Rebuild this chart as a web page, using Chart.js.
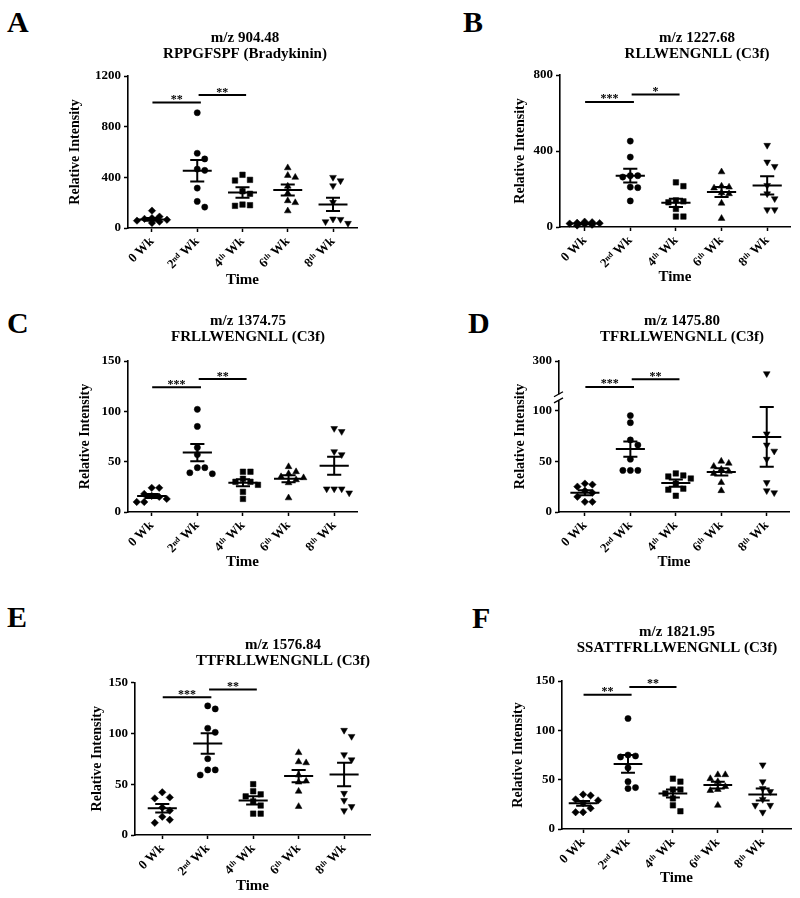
<!DOCTYPE html>
<html><head><meta charset="utf-8">
<script src="https://cdn.jsdelivr.net/npm/chart.js@4.4.1/dist/chart.umd.min.js"></script>
<style>
html,body{margin:0;padding:0;background:#fff;overflow:hidden;}
#wrap{position:relative;width:800px;height:898px;overflow:hidden;background:#fff;}
#wrap canvas{position:absolute;}
.lab{position:absolute;font:bold 30px 'Liberation Serif',serif;color:#000;line-height:1;}
</style></head><body><div id="wrap"></div>
<script>
// ---------- data ----------
const categories = ['0 Wk', '2ⁿᵈ Wk', '4ᵗʰ Wk', '6ᵗʰ Wk', '8ᵗʰ Wk'];

const A_title = ['m/z 904.48', 'RPPGFSPF (Bradykinin)'];
const A_yTicks = [0, 400, 800, 1200];
const A_w0 = [137, 90, 78, 72, 65, 58, 50, 40];
const A_w2 = [910, 590, 545, 465, 455, 315, 210, 165];
const A_w4 = [420, 380, 375, 290, 270, 185, 180, 175];
const A_w6 = [475, 415, 400, 330, 275, 215, 200, 135];
const A_w8 = [400, 373, 334, 203, 71, 68, 50, 37];
const A_mean = [68, 452, 280, 300, 186];
const A_sem = [10, 85, 41, 43, 52];
const A_sig = [990, 1050];
const A_sigLabels = ['**', '**'];

const B_title = ['m/z 1227.68', 'RLLWENGNLL (C3f)'];
const B_yTicks = [0, 400, 800];
const B_w0 = [28, 25, 22, 20, 18, 15, 12, 8];
const B_w2 = [452, 368, 270, 270, 263, 210, 207, 137];
const B_w4 = [235, 215, 140, 135, 130, 95, 55, 55];
const B_w6 = [290, 215, 210, 205, 180, 175, 125, 45];
const B_w8 = [430, 342, 319, 219, 175, 149, 91, 91];
const B_mean = [18, 270, 127, 184, 219];
const B_sem = [3, 36, 22, 26, 48];
const B_sig = [658, 698];
const B_sigLabels = ['***', '*'];

const C_title = ['m/z 1374.75', 'FRLLWENGNLL (C3f)'];
const C_yTicks = [0, 50, 100, 150];
const C_w0 = [24, 24, 18, 16, 15, 13, 10, 10];
const C_w2 = [102, 85, 64, 57, 44, 44, 39, 38];
const C_w4 = [40, 40, 33, 30, 30, 27, 20, 13];
const C_w6 = [45, 40, 38, 35, 34, 32, 29, 14];
const C_w8 = [83, 80, 60, 57, 23, 23, 23, 19];
const C_mean = [16, 59, 29, 33, 46];
const C_sem = [2, 8.5, 3.5, 3.5, 9];
const C_sig = [124, 132];
const C_sigLabels = ['***', '**'];

const D_title = ['m/z 1475.80', 'TFRLLWENGNLL (C3f)'];
const D_yTicks = [0, 50, 100, 300];
const D_w0 = [28, 27, 25, 21, 19, 15, 10, 10];
const D_w2 = [95, 88, 71, 66, 52, 41, 41, 41];
const D_w4 = [38, 36, 35, 33, 28, 23, 22, 16];
const D_w6 = [50, 48, 45, 42, 40, 38, 29, 21];
const D_w8 = [262, 77, 66, 60, 52, 29, 21, 19];
const D_mean = [19, 62, 28.5, 39.5, 74];
const D_sem = [2.5, 7.5, 3.5, 3.5, 29.5];
const D_sig = [222, 245];
const D_sigLabels = ['***', '**'];

const E_title = ['m/z 1576.84', 'TTFRLLWENGNLL (C3f)'];
const E_yTicks = [0, 50, 100, 150];
const E_w0 = [42, 37, 36, 27, 24, 18, 15, 12];
const E_w2 = [127, 124, 105, 101, 75, 64, 64, 59];
const E_w4 = [50, 43, 40, 38, 33, 29, 21, 21];
const E_w6 = [81, 72, 71, 59, 53, 52, 43, 28];
const E_w8 = [103, 97, 79, 74, 41, 34, 28, 24];
const E_mean = [26.4, 90, 34, 58, 59.5];
const E_sem = [4.2, 10, 4, 6, 11.5];
const E_sig = [135.5, 143];
const E_sigLabels = ['***', '**'];

const F_title = ['m/z 1821.95', 'SSATTFRLLWENGNLL (C3f)'];
const F_yTicks = [0, 50, 100, 150];
const F_w0 = [35, 34, 30, 29, 26, 21, 17, 17];
const F_w2 = [112, 75, 74, 73, 62, 48, 42, 41];
const F_w4 = [51, 48, 40, 40, 36, 31, 24, 18];
const F_w6 = [55, 55, 51, 48, 43, 40, 39, 24];
const F_w8 = [65, 48, 41, 38, 30, 24, 24, 17];
const F_mean = [26, 66, 36, 44.5, 35];
const F_sem = [2.5, 9, 4, 3.5, 6];
const F_sig = [136, 144];
const F_sigLabels = ['**', '**'];

// ---------- styling / layout ----------
const FONT = "'Liberation Serif', 'DejaVu Serif', serif";
Chart.defaults.font.family = FONT;
Chart.defaults.color = '#000';
Chart.defaults.animation = false;

const ident = v => v;
// broken axis for panel D: 0..110 linear, 200..300 compressed above the break
const brokenD = v => (v == null ? null : (v <= 110 ? v : 116 + (v - 200) * 0.328));

const groupStyles = [
  { pointStyle: 'rectRot', pointRadius: 3.7, pointRotation: 0 },
  { pointStyle: 'circle', pointRadius: 3.1, pointRotation: 0 },
  { pointStyle: 'rect', pointRadius: 3.9, pointRotation: 0 },
  { pointStyle: 'triangle', pointRadius: 3.9, pointRotation: 0 },
  { pointStyle: 'triangle', pointRadius: 3.9, pointRotation: 180 }
];

const panels = [
  { letter: 'A', lpos: [7, 7], title: A_title, yTicks: A_yTicks, groups: [A_w0, A_w2, A_w4, A_w6, A_w8], mean: A_mean, sem: A_sem, sig: A_sig, sigLabels: A_sigLabels, T: ident,
    box: { L: 128, R: 357, T: 76, B: 228, xMin: -0.53, xMax: 4.53, titleX: 245, titleY: 38, yTitleX: 75, timeY: 280 } },
  { letter: 'B', lpos: [463, 7], title: B_title, yTicks: B_yTicks, groups: [B_w0, B_w2, B_w4, B_w6, B_w8], mean: B_mean, sem: B_sem, sig: B_sig, sigLabels: B_sigLabels, T: ident,
    box: { L: 560, R: 790, T: 75, B: 227, xMin: -0.54, xMax: 4.5, titleX: 697, titleY: 38, yTitleX: 520, timeY: 277 } },
  { letter: 'C', lpos: [7, 308], title: C_title, yTicks: C_yTicks, groups: [C_w0, C_w2, C_w4, C_w6, C_w8], mean: C_mean, sem: C_sem, sig: C_sig, sigLabels: C_sigLabels, T: ident,
    box: { L: 128, R: 357, T: 361, B: 512, xMin: -0.52, xMax: 4.5, titleX: 248, titleY: 321, yTitleX: 85, timeY: 562 } },
  { letter: 'D', lpos: [468, 308], title: D_title, yTicks: D_yTicks, groups: [D_w0, D_w2, D_w4, D_w6, D_w8], mean: D_mean, sem: D_sem, sig: D_sig, sigLabels: D_sigLabels, T: brokenD, brk: [110, 116],
    box: { L: 559, R: 789, T: 361, B: 512, xMin: -0.57, xMax: 4.49, titleX: 682, titleY: 321, yTitleX: 520, timeY: 562 } },
  { letter: 'E', lpos: [7, 602], title: E_title, yTicks: E_yTicks, groups: [E_w0, E_w2, E_w4, E_w6, E_w8], mean: E_mean, sem: E_sem, sig: E_sig, sigLabels: E_sigLabels, T: ident,
    box: { L: 135, R: 370, T: 682.5, B: 835, xMin: -0.6, xMax: 4.57, titleX: 283, titleY: 645, yTitleX: 97, timeY: 886 } },
  { letter: 'F', lpos: [472, 603], title: F_title, yTicks: F_yTicks, groups: [F_w0, F_w2, F_w4, F_w6, F_w8], mean: F_mean, sem: F_sem, sig: F_sig, sigLabels: F_sigLabels, T: ident,
    box: { L: 562, R: 791, T: 681, B: 829, xMin: -0.47, xMax: 4.63, titleX: 677, titleY: 632, yTitleX: 518, timeY: 878 } }
];

// simple beeswarm: spread points of similar value sideways (in pixels), overlap allowed when crowded
function swarm(vals, T, pxX, pxY) {
  const STEP = 7.5, MIN = 6.5;
  const CANDS = [0, 1, -1, 2, -2];
  const order = vals.map((v, i) => i).sort((a, b) => vals[b] - vals[a]);
  const placed = [], off = new Array(vals.length).fill(0);
  order.forEach(i => {
    const y = T(vals[i]) * pxY;
    let best = 0, bestD = -1;
    for (const c of CANDS) {
      const x = c * STEP;
      const d = placed.length ? Math.min(...placed.map(p => Math.hypot(p.x - x, p.y - y))) : Infinity;
      if (d >= MIN) { best = x; bestD = d; break; }
      if (d > bestD) { bestD = d; best = x; }
    }
    placed.push({ x: best, y });
    off[i] = best / pxX;
  });
  return off;
}

const annot = {
  id: 'annot',
  afterDatasetsDraw(chart, args, o) {
    const { ctx } = chart; const x = chart.scales.x, y = chart.scales.y;
    ctx.save();
    ctx.fillStyle = '#000';
    ctx.font = 'bold 12px ' + FONT;
    ctx.textAlign = 'center'; ctx.textBaseline = 'alphabetic';
    (o.stars || []).forEach(s => {
      ctx.fillText(s.label, x.getPixelForValue(s.x), y.getPixelForValue(s.y) + 0.5);
    });
    if (o.brk) {
      const ax = chart.chartArea.left;
      const p1 = y.getPixelForValue(o.brk[0]), p2 = y.getPixelForValue(o.brk[1]);
      ctx.fillStyle = '#fff';
      ctx.fillRect(ax - 4, p2, 6, p1 - p2);
      ctx.strokeStyle = '#000'; ctx.lineWidth = 1.3;
      [p1, p2].forEach(p => { ctx.beginPath(); ctx.moveTo(ax - 5, p + 2.5); ctx.lineTo(ax + 4, p - 2.5); ctx.stroke(); });
    }
    ctx.restore();
  }
};

const wrap = document.getElementById('wrap');
const SIG_SPANS = [[0.01, 1.08], [1.03, 2.08]];

panels.forEach(p => {
  const b = p.box, T = p.T;
  const lab = document.createElement('div');
  lab.className = 'lab'; lab.textContent = p.letter;
  lab.style.left = p.lpos[0] + 'px'; lab.style.top = p.lpos[1] + 'px';
  wrap.appendChild(lab);

  const CL = Math.round(b.yTitleX - 12);
  const CT = b.titleY - 8;
  const W = Math.round(2 * (b.titleX - CL));
  const H = Math.round(b.timeY + 10 - CT);
  const yW = b.L - CL, rW = CL + W - b.R, xH = CT + H - b.B, titleGap = b.T - CT - 32;
  const yMax = T(p.yTicks[p.yTicks.length - 1]);
  const pxX = (b.R - b.L) / (b.xMax - b.xMin), pxY = (b.B - b.T) / yMax;

  const cv = document.createElement('canvas');
  cv.width = W; cv.height = H;
  cv.style.left = CL + 'px'; cv.style.top = CT + 'px';
  cv.style.width = W + 'px'; cv.style.height = H + 'px';
  wrap.appendChild(cv);

  const datasets = p.groups.map((vals, gi) => {
    const off = swarm(vals, T, pxX, pxY);
    const st = groupStyles[gi];
    return {
      label: categories[gi],
      data: vals.map((v, j) => ({ x: gi + off[j], y: T(v) })),
      pointStyle: st.pointStyle, pointRadius: st.pointRadius, pointRotation: st.pointRotation,
      pointBackgroundColor: '#000', pointBorderColor: '#000', pointBorderWidth: 0.5,
      showLine: false, order: 2, clip: false
    };
  });

  const meanData = [];
  p.mean.forEach((m, i) => {
    const s = p.sem[i];
    meanData.push(
      { x: i - 0.32, y: T(m) }, { x: i + 0.32, y: T(m) }, { x: i, y: null },
      { x: i, y: T(m - s) }, { x: i, y: T(m + s) }, { x: i, y: null },
      { x: i - 0.155, y: T(m + s) }, { x: i + 0.155, y: T(m + s) }, { x: i, y: null },
      { x: i - 0.155, y: T(m - s) }, { x: i + 0.155, y: T(m - s) }, { x: i, y: null });
  });
  datasets.push({ label: 'Mean ± SEM', data: meanData, showLine: true, spanGaps: false, pointRadius: 0,
    borderColor: '#000', borderWidth: 2, order: 0, clip: false });

  const sigData = [];
  p.sig.forEach((v, k) => {
    sigData.push({ x: SIG_SPANS[k][0], y: T(v) }, { x: SIG_SPANS[k][1], y: T(v) }, { x: 0, y: null });
  });
  datasets.push({ label: 'Significance', data: sigData, showLine: true, spanGaps: false, pointRadius: 0,
    borderColor: '#000', borderWidth: 2, order: 1, clip: false });

  const stars = p.sig.map((v, k) => ({ x: (SIG_SPANS[k][0] + SIG_SPANS[k][1]) / 2, y: T(v), label: p.sigLabels[k] }));

  new Chart(cv, {
    type: 'scatter',
    data: { datasets },
    plugins: [annot],
    options: {
      responsive: false, animation: false, devicePixelRatio: 1,
      layout: { padding: 0, autoPadding: false },
      plugins: {
        legend: { display: false }, tooltip: { enabled: false },
        title: { display: true, text: p.title, color: '#000',
          font: { size: 15, weight: 'bold', lineHeight: '16px' }, padding: { top: 0, bottom: titleGap } },
        annot: { stars, brk: p.brk }
      },
      scales: {
        x: {
          type: 'linear', position: 'bottom', min: b.xMin, max: b.xMax,
          afterBuildTicks: s => { s.ticks = categories.map((c, i) => ({ value: i })); },
          afterFit: s => { s.height = xH; },
          ticks: { callback: (v, i) => categories[i], autoSkip: false, minRotation: 45, maxRotation: 45,
            font: { size: 13, weight: 'bold' }, padding: 2, color: '#000' },
          grid: { display: true, drawOnChartArea: false, drawTicks: true, tickLength: 4, tickWidth: 1.5, tickColor: '#000' },
          border: { display: true, color: '#000', width: 1.6 },
          title: { display: true, text: 'Time', color: '#000', font: { size: 15, weight: 'bold', lineHeight: '16px' }, padding: { top: 0, bottom: 2 } }
        },
        y: {
          type: 'linear', position: 'left', min: 0, max: yMax,
          afterBuildTicks: s => { s.ticks = p.yTicks.map(v => ({ value: T(v) })); },
          afterFit: s => { s.width = yW; },
          ticks: { callback: (v, i) => String(p.yTicks[i]), font: { size: 13, weight: 'bold' }, padding: 3, color: '#000' },
          grid: { display: true, drawOnChartArea: false, drawTicks: true, tickLength: 4, tickWidth: 1.5, tickColor: '#000' },
          border: { display: true, color: '#000', width: 1.6 },
          title: { display: true, text: 'Relative Intensity', color: '#000', font: { size: 14, weight: 'bold', lineHeight: 1.2 }, padding: { top: 12 - 8.4, bottom: 0 } }
        },
        yr: {
          type: 'linear', position: 'right', display: true,
          afterFit: s => { s.width = rW; },
          ticks: { display: false }, grid: { display: false }, border: { display: false }, title: { display: false }
        }
      }
    }
  });
});
</script>
</body></html>
